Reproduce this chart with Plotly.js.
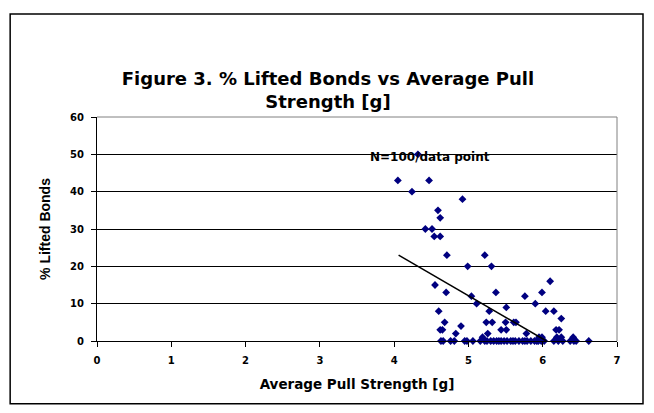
<!DOCTYPE html>
<html>
<head>
<meta charset="utf-8">
<script src="https://cdn.plot.ly/plotly-3.0.1.min.js"></script>
<style>html,body{margin:0;padding:0;background:#fff;}#chart{width:654px;height:413px;}</style>
</head>
<body>
<div id="chart"></div>
<script>
// Average pull strength [g]
var pullStrength = [
  4.05,4.24,4.32,4.47,4.42,4.51,4.59,4.62,4.54,4.62,4.92,4.71,5.22,4.99,5.31,4.55,4.70,5.04,5.11,5.28,
  4.60,4.68,5.24,5.32,4.62,4.65,4.90,4.83,5.19,5.26,5.37,5.76,5.99,6.10,5.90,5.51,6.04,6.15,6.25,5.50,
  5.61,5.64,5.44,5.51,6.18,6.22,5.78,5.95,5.99,6.19,6.25,6.41,
  4.63,4.66,4.76,4.81,4.95,4.98,5.06,5.16,5.22,5.25,5.30,5.34,5.38,5.41,5.44,5.48,5.52,5.57,5.60,5.63,
  5.68,5.73,5.76,5.79,5.84,5.89,5.92,5.94,5.98,6.02,6.15,6.21,6.27,6.37,6.42,6.45,6.62
];
// % lifted bonds
var liftedBonds = [
  43,40,50,43,30,30,35,33,28,28,38,23,23,20,20,15,13,12,10,8,
  8,5,5,5,3,3,4,2,1,2,13,12,13,16,10,9,8,8,6,5,
  5,5,3,3,3,3,2,1,1,1,1,1,
  0,0,0,0,0,0,0,0,0,0,0,0,0,0,0,0,0,0,0,0,
  0,0,0,0,0,0,0,0,0,0,0,0,0,0,0,0,0
];
// linear trend line end points
var trendX = [4.06, 6.05];
var trendY = [23.0, 0];

var xTicks = [0,1,2,3,4,5,6,7];
var yTicks = [0,10,20,30,40,50,60];

var WIDE = "DejaVu Sans, Verdana, sans-serif";
var NARROW = "Liberation Sans, Arial, sans-serif";

var traces = [
  {
    type: "scatter", mode: "markers",
    x: pullStrength, y: liftedBonds,
    marker: {symbol: "diamond", size: 6, color: "#000080"},
    cliponaxis: false,
    showlegend: false
  },
  {
    type: "scatter", mode: "lines",
    x: trendX, y: trendY,
    line: {color: "#000000", width: 1.5},
    showlegend: false
  }
];

var layout = {
  width: 654, height: 413,
  margin: {l: 97, r: 37, t: 117, b: 72, pad: 0},
  paper_bgcolor: "#ffffff", plot_bgcolor: "#ffffff",
  font: {family: WIDE, color: "#000000"},
  title: {
    text: "<b>Figure 3. % Lifted Bonds vs Average Pull<br>Strength [g]</b>",
    font: {family: WIDE, size: 18, color: "#000000"},
    x: 0.5015, xanchor: "center", y: 0.794, yanchor: "middle"
  },
  xaxis: {
    range: [0, 7], tickvals: xTicks, ticktext: xTicks.map(String),
    showgrid: false, zeroline: false,
    showline: true, linecolor: "#000000", linewidth: 1,
    ticks: "outside", ticklen: 5, tickcolor: "#000000",
    ticklabelstandoff: 5,
    tickfont: {family: WIDE, size: 10, color: "#000000", weight: "bold"},
    title: {text: "<b>Average Pull Strength [g]</b>", font: {family: WIDE, size: 13.5, color: "#000000"}, standoff: 14}
  },
  yaxis: {
    range: [0, 60], tickvals: yTicks, ticktext: yTicks.map(String),
    showgrid: true, gridcolor: "#000000", gridwidth: 1,
    zeroline: false,
    showline: true, linecolor: "#000000", linewidth: 1,
    ticks: "outside", ticklen: 5, tickcolor: "#000000",
    ticklabelstandoff: 5,
    tickfont: {family: WIDE, size: 10, color: "#000000", weight: "bold"},
    title: {text: "<b>% Lifted Bonds</b>", font: {family: NARROW, size: 14, color: "#000000"}, standoff: 16}
  },
  annotations: [
    {x: 4.48, y: 49.3, xref: "x", yref: "y", text: "<b>N=100/data point</b>",
     showarrow: false, font: {family: WIDE, size: 12, color: "#000000"}}
  ],
  shapes: [
    {type: "line", xref: "paper", yref: "paper", x0: 0, x1: 1, y0: 1, y1: 1,
     line: {color: "#808080", width: 1}, layer: "above"},
    {type: "line", xref: "paper", yref: "paper", x0: 1, x1: 1, y0: 0, y1: 1,
     line: {color: "#808080", width: 1}, layer: "above"},
    {type: "rect", xref: "paper", yref: "paper", x0: -0.167, x1: 1.05, y0: -0.28, y1: 1.46,
     line: {color: "#000000", width: 1.5}, fillcolor: "rgba(0,0,0,0)", layer: "above"}
  ]
};

Plotly.newPlot("chart", traces, layout, {staticPlot: true, displayModeBar: false});
</script>
</body>
</html>
